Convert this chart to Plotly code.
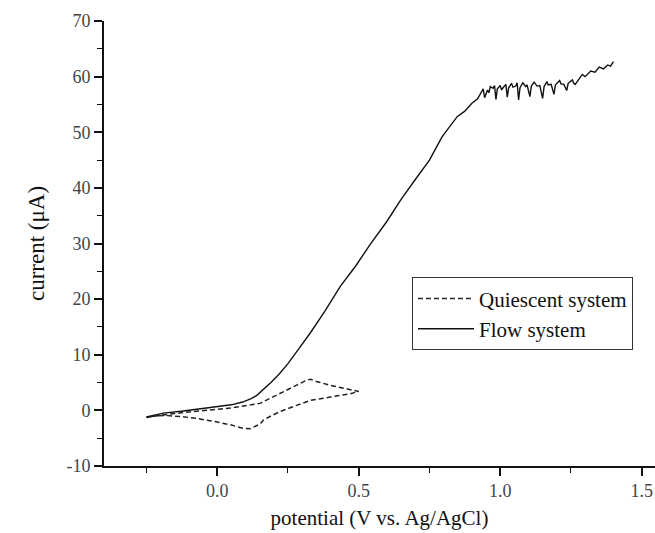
import plotly.graph_objects as go

# Quiescent system (cyclic voltammogram, dashed)
quiescent_x = [-0.25, -0.19, -0.12, -0.07, 0.0, 0.05, 0.082, 0.12, 0.153, 0.188, 0.223, 0.259,
               0.294, 0.315, 0.33, 0.35, 0.40, 0.45, 0.50,
               0.47, 0.447, 0.40, 0.33, 0.28, 0.223, 0.19, 0.164, 0.153, 0.117, 0.09, 0.047,
               0.0, -0.071, -0.13, -0.189, -0.25]
quiescent_y = [-1.3, -0.8, -0.4, -0.1, 0.2, 0.45, 0.67, 1.0, 1.3, 2.2, 3.1, 4.0,
               5.0, 5.4, 5.6, 5.2, 4.5, 3.9, 3.4,
               3.0, 2.8, 2.4, 1.8, 0.9, -0.2, -1.0, -1.7, -2.4, -3.3, -3.2, -2.6,
               -2.1, -1.45, -1.1, -0.9, -1.2]

# Flow system (solid)
flow_x = [-0.25, -0.19, -0.12, -0.07, 0.0, 0.05, 0.09, 0.12, 0.14, 0.16, 0.19, 0.22, 0.25, 0.29,
          0.33, 0.38, 0.435, 0.49, 0.54, 0.60, 0.648, 0.70, 0.75, 0.795, 0.82, 0.848, 0.875,
          0.90, 0.92, 0.93, 0.935, 0.94, 0.945, 0.95, 0.955, 0.96, 0.965, 0.975, 0.98, 0.985,
          0.99, 1.00, 1.005, 1.01, 1.02, 1.025, 1.03, 1.04, 1.045, 1.055, 1.06, 1.065, 1.07,
          1.08, 1.09, 1.095, 1.105, 1.11, 1.12, 1.13, 1.14, 1.15, 1.155, 1.165, 1.17, 1.18,
          1.19, 1.195, 1.21, 1.215, 1.225, 1.235, 1.24, 1.255, 1.26, 1.265, 1.275, 1.29, 1.30,
          1.32, 1.335, 1.35, 1.365, 1.38, 1.39, 1.40]
flow_y = [-1.2, -0.5, -0.1, 0.2, 0.6, 1.0, 1.5, 2.1, 2.7, 3.6, 5.0, 6.6, 8.4, 11.2,
          14.0, 17.8, 22.3, 26.0, 29.8, 34.0, 37.8, 41.5, 45.0, 49.2, 51.0, 52.8, 53.8,
          55.2, 56.0, 56.8, 57.4, 57.8, 56.2, 57.0, 57.6, 57.1, 58.2, 57.9, 58.4, 55.9,
          57.8, 58.4, 57.6, 58.0, 58.6, 56.3, 58.0, 58.8, 58.1, 58.3, 58.9, 55.8, 58.0,
          58.9, 58.2, 58.5, 56.4, 58.3, 59.0, 58.3, 58.4, 56.1, 58.2, 59.1, 58.5, 58.6,
          56.8, 58.5, 59.3, 58.7, 58.6, 57.5, 58.8, 59.4, 58.8, 58.6, 59.3, 60.4, 60.0,
          61.0, 60.8, 61.7, 61.4, 62.1, 61.9, 62.7]

x_tickvals = [0.0, 0.5, 1.0, 1.5]
x_ticktext = ["0.0", "0.5", "1.0", "1.5"]
y_tickvals = [-10, 0, 10, 20, 30, 40, 50, 60, 70]
y_ticktext = ["-10", "0", "10", "20", "30", "40", "50", "60", "70"]

FONT = "Liberation Serif, Times New Roman, serif"

fig = go.Figure()
fig.add_trace(go.Scatter(x=quiescent_x, y=quiescent_y, mode="lines", name="Quiescent system",
                         line=dict(color="#222", width=1.5, dash="5px,3px")))
fig.add_trace(go.Scatter(x=flow_x, y=flow_y, mode="lines", name="Flow system",
                         line=dict(color="#111", width=1.4)))

fig.update_layout(
    width=655, height=533,
    margin=dict(l=104, r=0, t=21, b=67),
    paper_bgcolor="white", plot_bgcolor="white",
    font=dict(family=FONT, color="#111"),
    showlegend=True,
    legend=dict(x=0.559, y=0.424, xanchor="left", yanchor="top",
                bordercolor="#333", borderwidth=1, bgcolor="white",
                font=dict(family=FONT, size=21, color="#111"),
                tracegroupgap=0, itemwidth=56),
    xaxis=dict(range=[-0.4, 1.547], showgrid=False, zeroline=False,
               showline=True, linecolor="#111", linewidth=1.6,
               ticks="outside", ticklen=8, tickwidth=1.5, tickcolor="#111",
               tickvals=x_tickvals, ticktext=x_ticktext,
               tickfont=dict(family=FONT, size=18, color="#444"),
               minor=dict(dtick=0.25, tick0=0, ticks="outside", ticklen=5, tickwidth=1.3, tickcolor="#111"),
               title=dict(text="potential (V vs. Ag/AgCl)", font=dict(family=FONT, size=21, color="#111"),
                          standoff=10)),
    yaxis=dict(range=[-10, 70], showgrid=False, zeroline=False,
               showline=True, linecolor="#111", linewidth=1.6,
               ticks="outside", ticklen=8, tickwidth=1.5, tickcolor="#111",
               tickvals=y_tickvals, ticktext=y_ticktext,
               tickfont=dict(family=FONT, size=18, color="#444"),
               minor=dict(dtick=5, tick0=0, ticks="outside", ticklen=5, tickwidth=1.3, tickcolor="#111"),
               title=dict(text="current (μA)", font=dict(family=FONT, size=23, color="#111"),
                          standoff=16)),
)

fig.write_html("out.html",
               config={"displayModeBar": False},
               post_script="document.body.style.margin='0';document.body.style.overflow='hidden';")
